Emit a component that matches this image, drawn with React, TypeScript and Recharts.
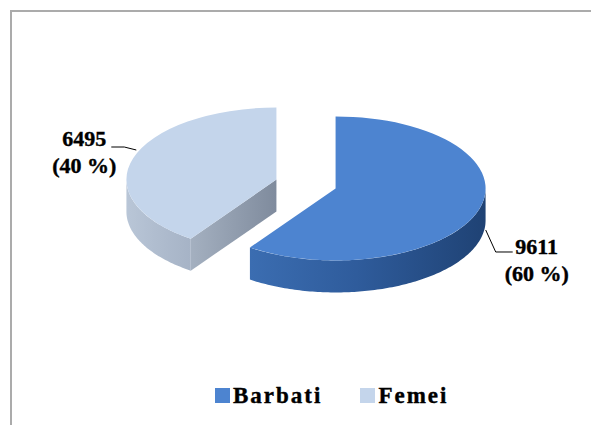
import React from 'react';
import { PieChart, Pie, Cell, Legend } from 'recharts';

const categories = ['Barbati', 'Femei'];
const values = [9611, 6495];

const topColors = ['#4d84d0', '#c4d5eb'];
const wallColors = [
  ['#3b6db1', '#2f5c9c', '#1f4274'],
  ['#b9c6d7', '#b0bdcf', '#a6b3c6'],
];
const cutColors = [
  ['#2f5c9c', '#1f4274'],
  ['#a4b0c0', '#7f8b9d'],
];

const data = categories.map((name, i) => ({ name, value: values[i] }));

const K = 0.48; // vertical squash of the pie ellipse
const DEPTH = 32;
const EXPLODE = 31;
const RAD = Math.PI / 180;
const FONT = '"Liberation Serif", "Times New Roman", serif';

function offsetCenter(cx: number, cy: number, mid: number) {
  return [cx + EXPLODE * Math.cos(mid * RAD), cy - EXPLODE * K * Math.sin(mid * RAD)];
}

function pt(ox: number, oy: number, r: number, a: number) {
  return [ox + r * Math.cos(a * RAD), oy - r * K * Math.sin(a * RAD)];
}

function Slice3D(props: any) {
  const { cx, cy, outerRadius, startAngle, endAngle, index } = props;
  const s = Math.max(startAngle, endAngle);
  const e = Math.min(startAngle, endAngle);
  const mid = (s + e) / 2;
  const [ox, oy] = offsetCenter(cx, cy, mid);
  const r = outerRadius;
  const p1 = pt(ox, oy, r, s);
  const p2 = pt(ox, oy, r, e);
  const large = s - e > 180 ? 1 : 0;
  const top = `M${ox},${oy} L${p1[0]},${p1[1]} A${r},${r * K} 0 ${large} 1 ${p2[0]},${p2[1]} Z`;

  // sample the rim and keep the front (lower) half for the outer wall
  const n = Math.ceil(s - e);
  const angles: number[] = [];
  for (let i = 0; i <= n; i++) angles.push(s - ((s - e) * i) / n);
  for (let k = Math.ceil(e / 180); k * 180 <= s; k++) angles.push(k * 180);
  angles.sort((a, b) => b - a);
  const runs: number[][] = [];
  let cur: number[] = [];
  angles.forEach((a) => {
    if (Math.sin(a * RAD) <= 1e-9) cur.push(a);
    else if (cur.length) {
      runs.push(cur);
      cur = [];
    }
  });
  if (cur.length) runs.push(cur);

  const walls = runs
    .filter((run) => run.length > 1)
    .map((run) => {
      const topPts = run.map((a) => pt(ox, oy, r, a));
      const botPts = topPts.map(([x, y]) => [x, y + DEPTH]).reverse();
      return [...topPts, ...botPts].map((p) => p.join(',')).join(' ');
    });

  const cuts: string[] = [];
  const cutFace = (a: number) => {
    const [x, y] = pt(ox, oy, r, a);
    return `${ox},${oy} ${x},${y} ${x},${y + DEPTH} ${ox},${oy + DEPTH}`;
  };
  if (Math.cos(s * RAD) < -1e-6) cuts.push(cutFace(s));
  if (Math.cos(e * RAD) > 1e-6) cuts.push(cutFace(e));

  const wc = wallColors[index % wallColors.length];
  const cc = cutColors[index % cutColors.length];

  return (
    <g>
      <defs>
        <linearGradient id={`wall-${index}`} x1="0" y1="0" x2="1" y2="0">
          <stop offset="0%" stopColor={wc[0]} />
          <stop offset="45%" stopColor={wc[1]} />
          <stop offset="100%" stopColor={wc[2]} />
        </linearGradient>
        <linearGradient id={`cut-${index}`} x1="0" y1="0" x2="1" y2="0">
          <stop offset="0%" stopColor={cc[0]} />
          <stop offset="100%" stopColor={cc[1]} />
        </linearGradient>
      </defs>
      {cuts.map((c, i) => (
        <polygon key={`c${i}`} points={c} fill={`url(#cut-${index})`} />
      ))}
      {walls.map((w, i) => (
        <polygon key={`w${i}`} points={w} fill={`url(#wall-${index})`} />
      ))}
      <path d={top} fill={props.fill} />
    </g>
  );
}

function renderLabel(props: any) {
  const { cx, cy, midAngle, outerRadius, value, percent } = props;
  const [ox, oy] = offsetCenter(cx, cy, midAngle);
  const [ax, ay] = pt(ox, oy, outerRadius, midAngle);
  const right = Math.cos(midAngle * RAD) > 0;
  let line: number[][];
  let tx: number;
  let ty: number;
  if (right) {
    line = [[ax + 7, ay + 20], [ax + 17, ay + 42], [ax + 34, ay + 42]];
    tx = ax + 58;
    ty = ay + 44;
  } else {
    line = [[ax + 3, ay - 8], [ax - 9, ay - 11], [ax - 22, ay - 11]];
    tx = ax - 49;
    ty = ay - 12;
  }
  return (
    <g>
      <polyline points={line.map((p) => p.join(',')).join(' ')} fill="none" stroke="#000" strokeWidth={1} />
      <text
        x={tx}
        y={ty}
        textAnchor="middle"
        fontFamily={FONT}
        fontWeight="bold"
        fontSize={22}
        fill="#000"
        stroke="#000"
        strokeWidth={0.4}
      >
        <tspan x={tx} y={ty}>{value}</tspan>
        <tspan x={tx} y={ty + 27}>{`(${Math.round(percent * 100)} %)`}</tspan>
      </text>
    </g>
  );
}

const renderLegend = () => (
  <div
    style={{
      display: 'flex',
      alignItems: 'center',
      height: 23,
      paddingLeft: 215,
      fontFamily: FONT,
      fontWeight: 'bold',
      fontSize: 23,
      lineHeight: '23px',
      letterSpacing: 2,
      color: '#000',
      WebkitTextStroke: '0.4px #000',
    }}
  >
    {categories.map((c, i) => (
      <div key={c} style={{ display: 'flex', alignItems: 'center', marginRight: 38 }}>
        <span style={{ width: 15, height: 15, background: topColors[i], marginRight: 3, display: 'inline-block' }} />
        <span>{c}</span>
      </div>
    ))}
  </div>
);

export default function App() {
  return (
    <div style={{ position: 'absolute', left: 0, top: 0, width: 591, height: 425, overflow: 'hidden', background: '#fff' }}>
      <div
        style={{
          position: 'absolute',
          left: 10,
          top: 10,
          width: 700,
          height: 600,
          borderTop: '2px solid #ababab',
          borderLeft: '2px solid #ababab',
        }}
      />
      <PieChart width={591} height={425} margin={{ top: 0, right: 0, bottom: 0, left: 0 }} style={{ position: 'absolute', left: 0, top: 0 }}>
        <Pie
          data={data}
          dataKey="value"
          nameKey="name"
          cx={306}
          cy={184}
          outerRadius={150}
          startAngle={90}
          endAngle={-270}
          stroke="none"
          shape={Slice3D}
          label={renderLabel}
          labelLine={false}
          isAnimationActive={false}
        >
          {data.map((d, i) => (
            <Cell key={d.name} fill={topColors[i]} />
          ))}
        </Pie>
        <Legend
          content={renderLegend}
          wrapperStyle={{ position: 'absolute', left: 0, top: 384, width: 591, height: 23 }}
        />
      </PieChart>
    </div>
  );
}
